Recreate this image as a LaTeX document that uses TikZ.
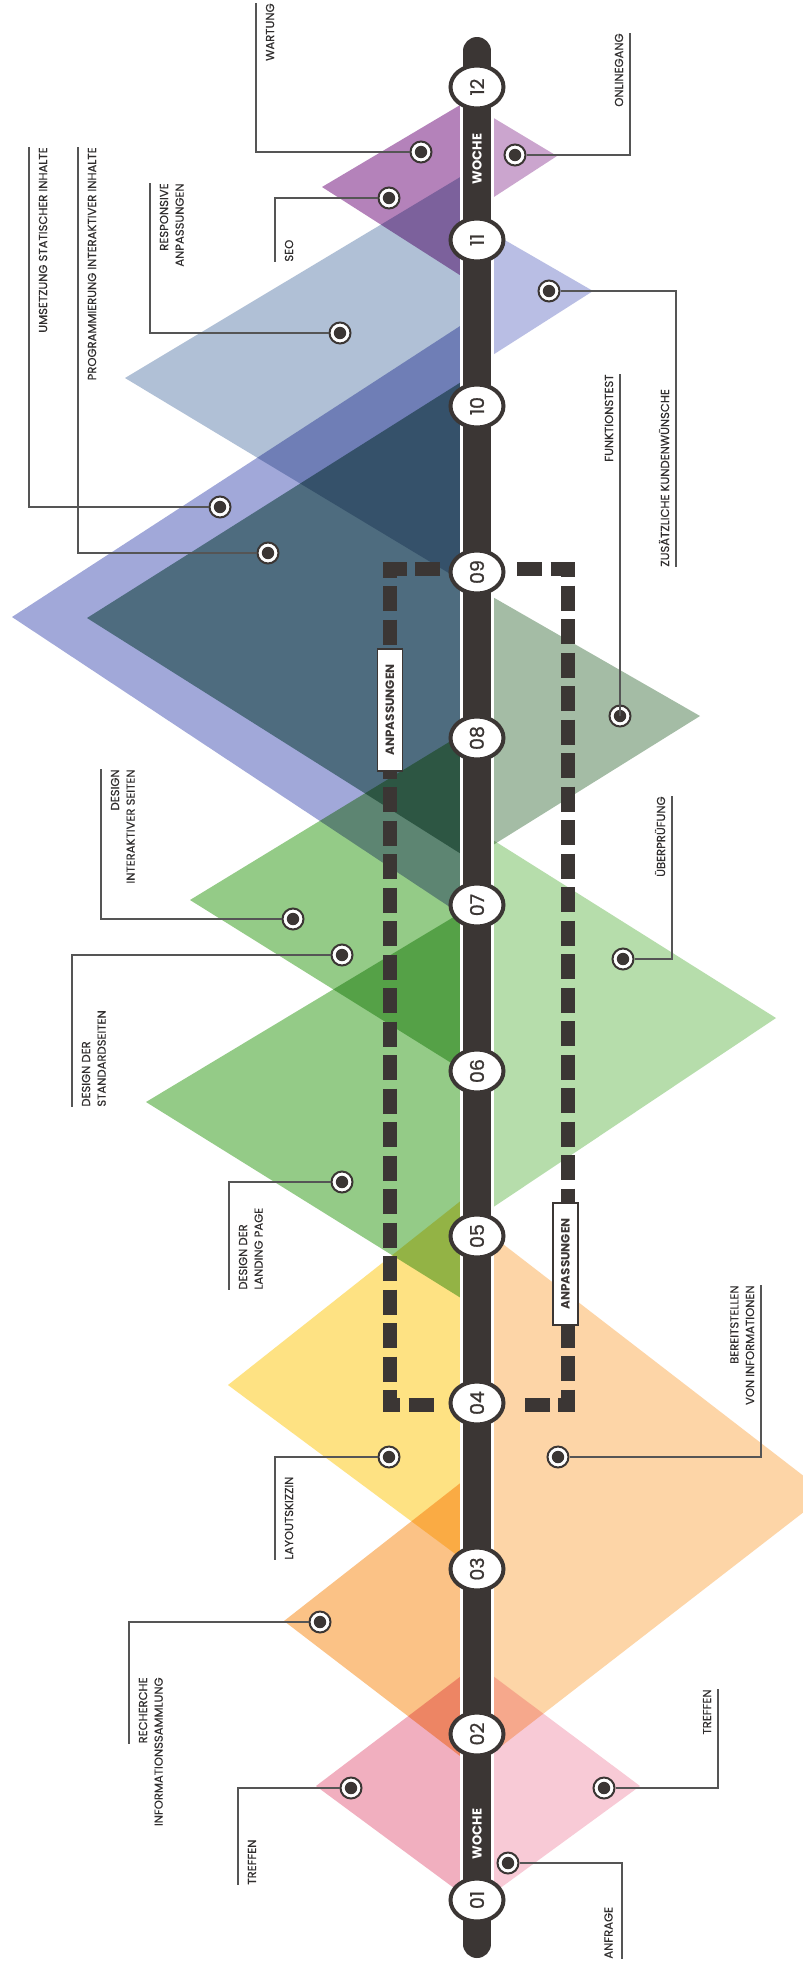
\documentclass[tikz,border=0pt]{standalone}
\usepackage{fontspec}
\setmainfont{Poppins}
\newfontfamily\lblfont{Poppins}[FakeBold=0.35]
\newfontfamily\numfont{Poppins}[FakeBold=0.9]
\usetikzlibrary{shapes.geometric,positioning}
\definecolor{barcol}{RGB}{59, 54, 52}
\definecolor{inkgray}{RGB}{48, 46, 46}
\definecolor{leadgray}{RGB}{85, 85, 85}
\definecolor{pinkL}{RGB}{241, 175, 191}
\definecolor{pinkR}{RGB}{248, 202, 214}
\definecolor{orangeL}{RGB}{251, 194, 134}
\definecolor{orangeR}{RGB}{253, 213, 167}
\definecolor{yellowL}{RGB}{254, 226, 131}
\definecolor{greenL}{RGB}{148, 203, 135}
\definecolor{greenR}{RGB}{182, 221, 171}
\definecolor{sageR}{RGB}{164, 188, 165}
\definecolor{lavL}{RGB}{161, 168, 217}
\definecolor{tealL}{RGB}{124, 165, 150}
\definecolor{steelL}{RGB}{176, 192, 214}
\definecolor{purpleL}{RGB}{180, 130, 186}
\definecolor{lavR}{RGB}{185, 190, 228}
\definecolor{purpleR}{RGB}{203, 165, 206}

\begin{document}
\begin{tikzpicture}[x=0.5pt,y=-0.5pt,
    tri/.style={blend mode=multiply},
    week/.style={ellipse,draw=barcol,line width=2pt,fill=white,rotate=90,
        minimum width=21.5pt,minimum height=26.5pt,inner sep=0pt,
        text=barcol,font=\fontsize{9.5}{10}\numfont},
    woche/.style={rotate=90,text=white,font=\fontsize{6.5}{7}\selectfont\bfseries},
    dot/.style={circle,draw=barcol,line width=1pt,fill=white,minimum size=10.5pt,inner sep=0pt,
        path picture={\fill[barcol] (path picture bounding box.center) circle (3.1pt);}},
    lead/.style={draw=leadgray,line width=0.7pt},
    lbl/.style={rotate=90,inner sep=0pt,text=inkgray,font=\fontsize{5.8}{7.8}\lblfont},
    dashbar/.style={draw=barcol,line width=7pt,dash pattern=on 12.5pt off 4.25pt},
    adjbox/.style={draw=barcol,line width=0.6pt,fill=white,rotate=90,inner sep=0pt,
        minimum width=61pt,minimum height=12.5pt,text=barcol,
        font=\fontsize{6}{7}\selectfont\bfseries}]
        \useasboundingbox (0,0) rectangle (803,1971);
        \fill[white] (0,0) rectangle (803,1971);

        % left side
        \fill[pinkL,tri] (477,1664) -- (316,1786) -- (477,1905) -- cycle;
        \fill[orangeL,tri] (477,1470) -- (284,1621) -- (477,1769) -- cycle;
        \fill[yellowL,tri] (477,1188) -- (228,1385) -- (477,1570) -- cycle;
        \fill[greenL,tri] (477,903) -- (146,1102) -- (477,1308) -- cycle;
        \fill[greenL,tri] (477,725) -- (190,900) -- (477,1079) -- cycle;
        \fill[lavL,tri] (477,315) -- (12,617) -- (477,925) -- cycle;
        \fill[tealL,tri] (477,372) -- (87,618) -- (477,864) -- cycle;
        \fill[steelL,tri] (477,167) -- (125,378) -- (477,590) -- cycle;
        \fill[purpleL,tri] (477,95) -- (322,187) -- (477,286) -- cycle;
        % right side
        \fill[pinkR,tri] (477,1664) -- (640,1786) -- (477,1905) -- cycle;
        \fill[orangeR,tri] (477,1224) -- (827,1494) -- (477,1765) -- cycle;
        \fill[greenR,tri] (477,830) -- (776,1018) -- (477,1218) -- cycle;
        \fill[sageR,tri] (477,588) -- (700,716) -- (477,855) -- cycle;
        \fill[lavR,tri] (477,224) -- (593,291) -- (477,365) -- cycle;
        \fill[purpleR,tri] (477,108) -- (557,156) -- (477,208) -- cycle;

        % Anpassungen
        \coordinate (b1) at (440,569);
        \coordinate (b2) at (390,569);
        \coordinate (b3) at (390,1405);
        \coordinate (b4) at (440,1405);
        \coordinate (c1) at (517,569);
        \coordinate (c2) at (567.5,569);
        \coordinate (c3) at (567.5,1405);
        \coordinate (c4) at (517,1405);
        \draw[dashbar] (b1) -- (b2) -- (b3) -- (b4);
        \draw[dashbar] (c1) -- (c2) -- (c3) -- (c4);
        \node[adjbox] (adjL) at (390,710) {ANPASSUNGEN};
        \node[adjbox] (adjR) at (565.5,1264) {ANPASSUNGEN};

        % timeline
        \coordinate (barTop) at (477,51);
        \coordinate (barBot) at (477,1944);
        \draw[white,line width=17pt,line cap=round] (barTop) -- (barBot);
        \draw[barcol,line width=14pt,line cap=round] (barTop) -- (barBot);
        \node[woche] (wocheA) at (477,159) {WOCHE};
        \node[woche] (wocheB) at (477,1834) {WOCHE};

        \node[week] (w12) at (477,87) {12};
        \node[week] (w11) at (477,240) {11};
        \node[week] (w10) at (477,406) {10};
        \node[week] (w09) at (477,572) {09};
        \node[week] (w08) at (477,738) {08};
        \node[week] (w07) at (477,905) {07};
        \node[week] (w06) at (477,1071) {06};
        \node[week] (w05) at (477,1236) {05};
        \node[week] (w04) at (477,1403) {04};
        \node[week] (w03) at (477,1569) {03};
        \node[week] (w02) at (477,1734) {02};
        \node[week] (w01) at (477,1900) {01};

        % dots
        \node[dot] (dTreffenL) at (351,1788) {};
        \node[dot] (dTreffenR) at (604,1788) {};
        \node[dot] (dAnfrage) at (508,1863) {};
        \node[dot] (dRecherche) at (320,1622) {};
        \node[dot] (dBereit) at (558,1457) {};
        \node[dot] (dLayout) at (389,1457) {};
        \node[dot] (dLanding) at (342,1182) {};
        \node[dot] (dStandard) at (342,955) {};
        \node[dot] (dInterakt) at (293,919) {};
        \node[dot] (dUeber) at (623,959) {};
        \node[dot] (dFunktion) at (620,716) {};
        \node[dot] (dUmsetz) at (220,507) {};
        \node[dot] (dProgr) at (268,553) {};
        \node[dot] (dZusatz) at (549,291) {};
        \node[dot] (dResp) at (340,333) {};
        \node[dot] (dSeo) at (389,198) {};
        \node[dot] (dWartung) at (421,152) {};
        \node[dot] (dOnline) at (515,155) {};

        % label ends
        \coordinate (eTreffenL) at (238,1885);
        \coordinate (eTreffenR) at (718,1689);
        \coordinate (eAnfrage) at (622,1959);
        \coordinate (eRecherche) at (129,1744);
        \coordinate (eBereit) at (761,1285);
        \coordinate (eLayout) at (275,1560);
        \coordinate (eLanding) at (229,1290);
        \coordinate (eStandard) at (72,1107);
        \coordinate (eInterakt) at (101,769);
        \coordinate (eUeber) at (672,796);
        \coordinate (eFunktion) at (620,374);
        \coordinate (eUmsetz) at (29,147);
        \coordinate (eProgr) at (78,147);
        \coordinate (eZusatz) at (676,567);
        \coordinate (eResp) at (150,183);
        \coordinate (eSeo) at (275,262);
        \coordinate (eWartung) at (256,3);
        \coordinate (eOnline) at (630,33);

        \draw[lead] (dTreffenL) -| (eTreffenL);
        \draw[lead] (dTreffenR) -| (eTreffenR);
        \draw[lead] (dAnfrage) -| (eAnfrage);
        \draw[lead] (dRecherche) -| (eRecherche);
        \draw[lead] (dBereit) -| (eBereit);
        \draw[lead] (dLayout) -| (eLayout);
        \draw[lead] (dLanding) -| (eLanding);
        \draw[lead] (dStandard) -| (eStandard);
        \draw[lead] (dInterakt) -| (eInterakt);
        \draw[lead] (dUeber) -| (eUeber);
        \draw[lead] (dFunktion) -| (eFunktion);
        \draw[lead] (dUmsetz) -| (eUmsetz);
        \draw[lead] (dProgr) -| (eProgr);
        \draw[lead] (dZusatz) -| (eZusatz);
        \draw[lead] (dResp) -| (eResp);
        \draw[lead] (dSeo) -| (eSeo);
        \draw[lead] (dWartung) -| (eWartung);
        \draw[lead] (dOnline) -| (eOnline);

        % labels
        \node[lbl,anchor=north west] (tTreffenL) at (247.5,1885) {TREFFEN};
        \node[lbl,anchor=north east,align=right] (tRecherche) at (138.5,1677) {RECHERCHE\\INFORMATIONSSAMMLUNG};
        \node[lbl,anchor=north west] (tLayout) at (284.5,1560) {LAYOUTSKIZZIN};
        \node[lbl,anchor=north west,align=left] (tLanding) at (238.5,1290) {DESIGN DER\\LANDING PAGE};
        \node[lbl,anchor=north west,align=left] (tStandard) at (81.5,1107) {DESIGN DER\\STANDARDSEITEN};
        \node[lbl,anchor=north east,align=right] (tInterakt) at (110.5,769) {DESIGN\\INTERAKTIVER SEITEN};
        \node[lbl,anchor=north east] (tUmsetz) at (38.5,147) {UMSETZUNG STATISCHER INHALTE};
        \node[lbl,anchor=north east] (tProgr) at (87.5,147) {PROGRAMMIERUNG INTERAKTIVER INHALTE};
        \node[lbl,anchor=north east,align=right] (tResp) at (159.5,183) {RESPONSIVE\\ANPASSUNGEN};
        \node[lbl,anchor=north west] (tSeo) at (284.5,262) {SEO};
        \node[lbl,anchor=north east] (tWartung) at (265.5,3) {WARTUNG};
        \node[lbl,anchor=south east] (tTreffenR) at (711.5,1689) {TREFFEN};
        \node[lbl,anchor=south west] (tAnfrage) at (613,1959) {ANFRAGE};
        \node[lbl,anchor=south east,align=right] (tBereit) at (754.5,1285) {BEREITSTELLEN\\VON INFORMATIONEN};
        \node[lbl,anchor=south east] (tUeber) at (665.5,796) {ÜBERPRÜFUNG};
        \node[lbl,anchor=south east] (tFunktion) at (613.5,374) {FUNKTIONSTEST};
        \node[lbl,anchor=south west] (tZusatz) at (669.5,567) {ZUSÄTZLICHE KUNDENWÜNSCHE};
        \node[lbl,anchor=south east] (tOnline) at (623.5,33) {ONLINEGANG};
    \end{tikzpicture}
\end{document}
